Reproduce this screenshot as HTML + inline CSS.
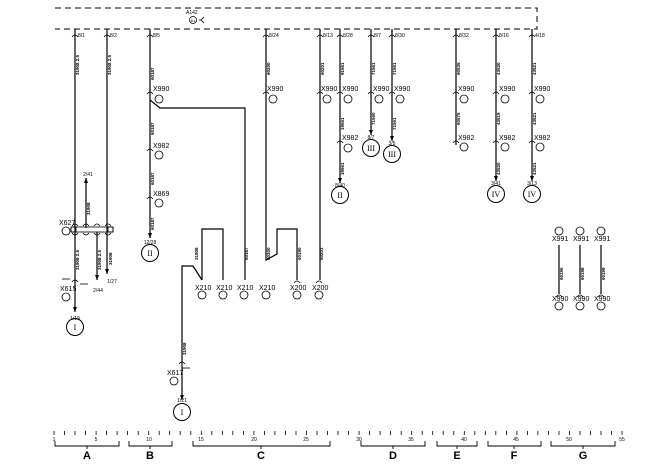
<!DOCTYPE html>
<html><head><meta charset="utf-8"><style>
html,body{margin:0;padding:0;background:#fff;}
svg{display:block;font-family:"Liberation Sans",sans-serif;}
.t{font-size:5px;}
.l{font-size:7px;}
.w{font-size:4.5px;font-weight:bold;}
</style></head><body>
<svg width="648" height="468" viewBox="0 0 648 468" xmlns="http://www.w3.org/2000/svg" stroke-linecap="butt">
<defs>
<marker id="ar" markerWidth="6" markerHeight="4" refX="5" refY="2" orient="auto" markerUnits="userSpaceOnUse"><path d="M0,0 L5,2 L0,4 Z" fill="#000"/></marker>
</defs>
<g stroke="#000" fill="none" stroke-width="1.2">
<path d="M55,8 H537 V29 H55" stroke-dasharray="6,4" stroke-width="1"/>
<circle cx="193" cy="20" r="3.5" stroke-width="0.8"/>
<path d="M204,17 L201,20 L204,23 M201,20 H199" stroke-width="0.8"/>
<path d="M75,29 V312" marker-end="url(#ar)"/>
<path d="M107,29 V274" marker-end="url(#ar)"/>
<path d="M150,29 V238" marker-end="url(#ar)"/>
<path d="M266,29 V260 L277,254 V229 H297 V280"/>
<path d="M320,29 V280"/>
<path d="M340,29 V183" marker-end="url(#ar)"/>
<path d="M371,29 V135" marker-end="url(#ar)"/>
<path d="M392,29 V141" marker-end="url(#ar)"/>
<path d="M456,29 V145"/>
<path d="M496,29 V181" marker-end="url(#ar)"/>
<path d="M532,29 V181" marker-end="url(#ar)"/>
<path d="M150,100 L160,108 H245 V280"/>
<path d="M202,280 V229 H223 V280"/>
<path d="M202,280 L193,266 H182 V400" marker-end="url(#ar)"/>
<path d="M182,368 L190,368" stroke-width="0.8"/>
<path d="M86,228 V178" marker-end="url(#ar)"/>
<path d="M97,232 V280" marker-end="url(#ar)"/>
<rect x="71" y="227" width="42" height="5" stroke-width="0.8"/>
<rect x="71" y="227" width="5" height="5" stroke-width="0.8"/>
<rect x="108" y="227" width="5" height="5" stroke-width="0.8"/>
<path d="M80,284 H88" stroke-width="0.8"/>
<path d="M62,279 H70" stroke-width="0.8"/>
<path d="M559,245 V294 M580,245 V294 M601,245 V294"/>
<g stroke-width="1">
<circle cx="75" cy="327" r="8.5"/>
<circle cx="150" cy="253" r="8.5"/>
<circle cx="182" cy="412" r="8.5"/>
<circle cx="340" cy="195" r="8.5"/>
<circle cx="371" cy="148" r="8.5"/>
<circle cx="392" cy="154" r="8.5"/>
<circle cx="496" cy="194" r="8.5"/>
<circle cx="532" cy="194" r="8.5"/>
</g>
<g stroke-width="0.8">
<circle cx="159" cy="99" r="4"/><circle cx="159" cy="155" r="4"/><circle cx="159" cy="203" r="4"/>
<circle cx="273" cy="99" r="4"/><circle cx="327" cy="99" r="4"/><circle cx="348" cy="99" r="4"/><circle cx="348" cy="148" r="4"/>
<circle cx="379" cy="99" r="4"/><circle cx="400" cy="99" r="4"/>
<circle cx="464" cy="99" r="4"/><circle cx="464" cy="147" r="4"/>
<circle cx="505" cy="99" r="4"/><circle cx="505" cy="147" r="4"/>
<circle cx="540" cy="99" r="4"/><circle cx="540" cy="147" r="4"/>
<circle cx="202" cy="295" r="4"/><circle cx="223" cy="295" r="4"/><circle cx="244" cy="295" r="4"/><circle cx="266" cy="295" r="4"/><circle cx="297" cy="295" r="4"/><circle cx="319" cy="295" r="4"/>
<circle cx="66" cy="297" r="4"/><circle cx="66" cy="231" r="4"/><circle cx="174" cy="381" r="4"/>
<circle cx="559" cy="231" r="4"/><circle cx="580" cy="231" r="4"/><circle cx="601" cy="231" r="4"/>
<circle cx="559" cy="306" r="4"/><circle cx="580" cy="306" r="4"/><circle cx="601" cy="306" r="4"/>
</g>
<g stroke-width="0.8">
<path d="M72,37 q3,-4 6,0 M104,37 q3,-4 6,0 M147,37 q3,-4 6,0 M263,37 q3,-4 6,0 M317,37 q3,-4 6,0 M337,37 q3,-4 6,0 M368,37 q3,-4 6,0 M389,37 q3,-4 6,0 M453,37 q3,-4 6,0 M493,37 q3,-4 6,0 M529,37 q3,-4 6,0"/>
<path d="M147,94 q3,-4 6,0 M147,151 q3,-4 6,0 M147,199 q3,-4 6,0 M263,94 q3,-4 6,0 M317,94 q3,-4 6,0 M337,94 q3,-4 6,0 M337,143 q3,-4 6,0 M368,94 q3,-4 6,0 M389,94 q3,-4 6,0 M453,94 q3,-4 6,0 M453,143 q3,-4 6,0 M493,94 q3,-4 6,0 M493,143 q3,-4 6,0 M529,94 q3,-4 6,0 M529,143 q3,-4 6,0"/>
<path d="M72,282 q3,-4 6,0 M179,364 q3,-4 6,0 M72,226 q3,-4 6,0 M83,226 q3,-4 6,0 M94,226 q3,-4 6,0 M105,226 q3,-4 6,0 M72,233 q3,4 6,0 M83,233 q3,4 6,0 M94,233 q3,4 6,0 M105,233 q3,4 6,0"/>
<path d="M294,283 q3,-4 6,0 M316,283 q3,-4 6,0 M556,297 q3,-4 6,0 M577,297 q3,-4 6,0 M598,297 q3,-4 6,0"/>
</g>
<path d="M54,431 V435 M64.5,431 V435 M75,431 V435 M85.6,431 V435 M96.1,431 V435 M106.6,431 V435 M117.1,431 V435 M127.6,431 V435 M138.2,431 V435 M148.7,431 V435 M159.2,431 V435 M169.7,431 V435 M180.2,431 V435 M190.8,431 V435 M201.3,431 V435 M211.8,431 V435 M222.3,431 V435 M232.8,431 V435 M243.4,431 V435 M253.9,431 V435 M264.4,431 V435 M274.9,431 V435 M285.4,431 V435 M296,431 V435 M306.5,431 V435 M317,431 V435 M327.5,431 V435 M338,431 V435 M348.6,431 V435 M359.1,431 V435 M369.6,431 V435 M380.1,431 V435 M390.6,431 V435 M401.2,431 V435 M411.7,431 V435 M422.2,431 V435 M432.7,431 V435 M443.2,431 V435 M453.8,431 V435 M464.3,431 V435 M474.8,431 V435 M485.3,431 V435 M495.8,431 V435 M506.4,431 V435 M516.9,431 V435 M527.4,431 V435 M537.9,431 V435 M548.4,431 V435 M559,431 V435 M569.5,431 V435 M580,431 V435 M590.5,431 V435 M601,431 V435 M611.6,431 V435 M622,431 V435" stroke-width="0.8"/>
<path d="M55,441 V446 H119 V441 M87,446 V449 M129,441 V446 H172 V441 M150,446 V449 M193,441 V446 H330 V441 M261,446 V449 M361,441 V446 H425 V441 M393,446 V449 M437,441 V446 H477 V441 M457,446 V449 M488,441 V446 H541 V441 M514,446 V449 M551,441 V446 H615 V441 M583,446 V449" stroke-width="0.9"/>
</g>
<g fill="#000">
<g font-size="11" font-weight="bold" text-anchor="middle">
<text x="87" y="459">A</text><text x="150" y="459">B</text><text x="261" y="459">C</text><text x="393" y="459">D</text><text x="457" y="459">E</text><text x="514" y="459">F</text><text x="583" y="459">G</text>
</g>
<g class="t" text-anchor="middle">
<text x="54" y="441">1</text><text x="96" y="441">5</text><text x="149" y="441">10</text><text x="201" y="441">15</text><text x="254" y="441">20</text><text x="306" y="441">25</text><text x="359" y="441">30</text><text x="411" y="441">35</text><text x="464" y="441">40</text><text x="516" y="441">45</text><text x="569" y="441">50</text><text x="622" y="441">55</text>
</g>
<text class="t" x="186" y="14">A142</text>
<text x="193" y="22" font-size="4" text-anchor="middle">61</text>
<g class="t">
<text x="78" y="37">8/1</text><text x="110" y="37">8/2</text><text x="153" y="37">8/5</text><text x="269" y="37">8/24</text><text x="323" y="37">8/13</text><text x="343" y="37">8/28</text><text x="374" y="37">8/7</text><text x="395" y="37">8/30</text><text x="459" y="37">8/32</text><text x="499" y="37">8/16</text><text x="535" y="37">4/18</text>
</g>
<g class="l">
<text x="153" y="91">X990</text><text x="153" y="148">X982</text><text x="153" y="196">X869</text>
<text x="267" y="91">X990</text><text x="321" y="91">X990</text><text x="342" y="91">X990</text><text x="342" y="140">X982</text>
<text x="373" y="91">X990</text><text x="394" y="91">X990</text><text x="458" y="91">X990</text><text x="458" y="140">X982</text>
<text x="499" y="91">X990</text><text x="499" y="140">X982</text><text x="534" y="91">X990</text><text x="534" y="140">X982</text>
<text x="195" y="290">X210</text><text x="216" y="290">X210</text><text x="237" y="290">X210</text><text x="259" y="290">X210</text><text x="290" y="290">X200</text><text x="312" y="290">X200</text>
<text x="60" y="291">X615</text><text x="59" y="225">X627</text><text x="167" y="375">X617</text>
<text x="552" y="241">X991</text><text x="573" y="241">X991</text><text x="594" y="241">X991</text>
<text x="552" y="301">X990</text><text x="573" y="301">X990</text><text x="594" y="301">X990</text>
</g>
<g font-size="8" text-anchor="middle" font-family="Liberation Serif,serif">
<text x="75" y="330">I</text><text x="150" y="256">II</text><text x="182" y="415">I</text><text x="340" y="198">II</text><text x="371" y="151">III</text><text x="392" y="157">III</text><text x="496" y="197">IV</text><text x="532" y="197">IV</text>
</g>
<g class="t" text-anchor="middle">
<text x="75" y="320">1/19</text><text x="150" y="244">12/28</text><text x="182" y="402">1/21</text><text x="340" y="187">8/40</text><text x="371" y="139">8/7</text><text x="392" y="145">3/5</text><text x="496" y="185">3/41</text><text x="532" y="185">3/13</text>
<text x="88" y="176">2/41</text><text x="98" y="292">2/44</text><text x="112" y="283">1/27</text>
</g>
<g class="w">
<text transform="translate(79,75) rotate(-90)">31908 2.5</text>
<text transform="translate(111,75) rotate(-90)">31908 2.5</text>
<text transform="translate(154,80) rotate(-90)">60187</text>
<text transform="translate(154,135) rotate(-90)">60187</text>
<text transform="translate(154,185) rotate(-90)">60187</text>
<text transform="translate(154,230) rotate(-90)">60187</text>
<text transform="translate(270,75) rotate(-90)">60200</text>
<text transform="translate(324,75) rotate(-90)">60201</text>
<text transform="translate(344,75) rotate(-90)">91561</text>
<text transform="translate(344,130) rotate(-90)">19561</text>
<text transform="translate(344,175) rotate(-90)">19561</text>
<text transform="translate(375,75) rotate(-90)">71561</text>
<text transform="translate(375,125) rotate(-90)">71560</text>
<text transform="translate(396,75) rotate(-90)">71561</text>
<text transform="translate(396,130) rotate(-90)">71561</text>
<text transform="translate(460,75) rotate(-90)">60535</text>
<text transform="translate(460,125) rotate(-90)">60575</text>
<text transform="translate(500,75) rotate(-90)">43520</text>
<text transform="translate(500,125) rotate(-90)">43519</text>
<text transform="translate(500,175) rotate(-90)">43520</text>
<text transform="translate(536,75) rotate(-90)">43521</text>
<text transform="translate(536,125) rotate(-90)">43521</text>
<text transform="translate(536,175) rotate(-90)">43521</text>
<text transform="translate(90,215) rotate(-90)">31908</text>
<text transform="translate(79,270) rotate(-90)">31908 2.5</text>
<text transform="translate(101,270) rotate(-90)">31908 2.5</text>
<text transform="translate(112,265) rotate(-90)">31908</text>
<text transform="translate(198,260) rotate(-90)">31908</text>
<text transform="translate(248,260) rotate(-90)">60187</text>
<text transform="translate(270,260) rotate(-90)">60200</text>
<text transform="translate(301,260) rotate(-90)">60190</text>
<text transform="translate(323,260) rotate(-90)">60201</text>
<text transform="translate(186,355) rotate(-90)">31908</text>
<text transform="translate(563,280) rotate(-90)">60196</text>
<text transform="translate(584,280) rotate(-90)">60198</text>
<text transform="translate(605,280) rotate(-90)">60199</text>
</g>
</g>
</svg>
</body></html>
